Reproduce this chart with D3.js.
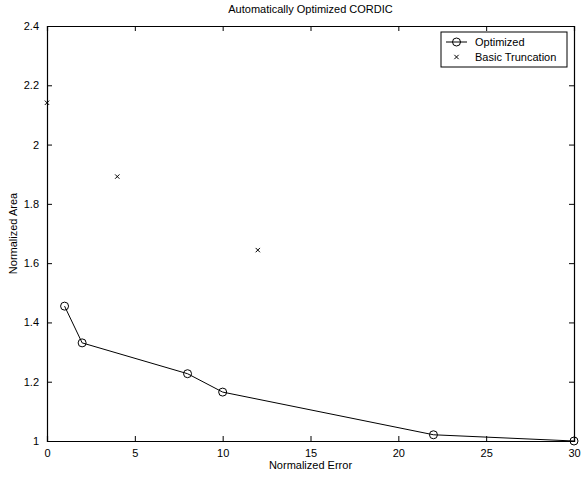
<!DOCTYPE html>
<html>
<head>
<meta charset="utf-8">
<script src="https://cdn.jsdelivr.net/npm/d3@7"></script>
<style>
  body { margin: 0; background: #fff; }
  text { font-family: "Liberation Sans", Arial, sans-serif; fill: #000; }
</style>
</head>
<body>
<div id="chart"></div>
<script>
// data
var optX = [1, 2, 8, 10, 22, 30];
var optY = [1.455, 1.331, 1.227, 1.165, 1.021, 1.0];
var truncX = [0, 4, 12];
var truncY = [2.141, 1.892, 1.644];
var xTicks = [0, 5, 10, 15, 20, 25, 30];
var yTicks = [1, 1.2, 1.4, 1.6, 1.8, 2, 2.2, 2.4];
var seriesNames = ["Optimized", "Basic Truncation"];

var width = 584, height = 477;
var margin = {left: 47, right: 10, top: 26, bottom: 36};
var w = width - margin.left - margin.right,
    h = height - margin.top - margin.bottom;

var svg = d3.select("#chart").append("svg")
    .attr("width", width)
    .attr("height", height);

var g = svg.append("g")
    .attr("transform", "translate(" + margin.left + "," + margin.top + ")");

var x = d3.scaleLinear().domain([0, 30]).range([0, w]);
var y = d3.scaleLinear().domain([1, 2.4]).range([h, 0]);

// axes, matlab style: ticks inward on all four sides
var fmt = function(d) { return d3.format("~g")(d); };

g.append("g")
    .attr("transform", "translate(0," + h + ")")
    .call(d3.axisBottom(x).tickValues(xTicks).tickSize(-5).tickPadding(8).tickFormat(fmt));
g.append("g")
    .call(d3.axisTop(x).tickValues(xTicks).tickSize(-5).tickFormat(""));
g.append("g")
    .call(d3.axisLeft(y).tickValues(yTicks).tickSize(-5).tickPadding(8).tickFormat(fmt));
g.append("g")
    .attr("transform", "translate(" + w + ",0)")
    .call(d3.axisRight(y).tickValues(yTicks).tickSize(-5).tickFormat(""));

g.selectAll(".domain").attr("stroke", "#000").attr("stroke-width", 1.2);
g.selectAll(".tick line").attr("stroke", "#000");
g.selectAll(".tick text").style("font-size", "11px").attr("fill", "#000");

// optimized series
var opt = optX.map(function(d, i) { return [d, optY[i]]; });
g.append("path")
    .datum(opt)
    .attr("fill", "none")
    .attr("stroke", "#000")
    .attr("stroke-width", 1)
    .attr("d", d3.line().x(function(d) { return x(d[0]); }).y(function(d) { return y(d[1]); }));

g.selectAll("circle.opt")
    .data(opt)
  .enter().append("circle")
    .attr("class", "opt")
    .attr("cx", function(d) { return x(d[0]); })
    .attr("cy", function(d) { return y(d[1]); })
    .attr("r", 4)
    .attr("fill", "none")
    .attr("stroke", "#000");

// basic truncation, x markers
var cross = d3.symbol().type(d3.symbolX).size(14);
g.selectAll("path.trunc")
    .data(truncX.map(function(d, i) { return [d, truncY[i]]; }))
  .enter().append("path")
    .attr("class", "trunc")
    .attr("transform", function(d) { return "translate(" + x(d[0]) + "," + y(d[1]) + ")"; })
    .attr("d", cross)
    .attr("fill", "none")
    .attr("stroke", "#000")
    .attr("stroke-width", 1);

// labels
svg.append("text")
    .attr("x", margin.left + w / 2)
    .attr("y", 13)
    .attr("text-anchor", "middle")
    .style("font-size", "11px")
    .text("Automatically Optimized CORDIC");

svg.append("text")
    .attr("x", margin.left + w / 2)
    .attr("y", 469)
    .attr("text-anchor", "middle")
    .style("font-size", "11px")
    .text("Normalized Error");

svg.append("text")
    .attr("transform", "translate(17," + (margin.top + h / 2) + ") rotate(-90)")
    .attr("text-anchor", "middle")
    .style("font-size", "11px")
    .text("Normalized Area");

// legend
var leg = svg.append("g").attr("transform", "translate(441,32)");
leg.append("rect")
    .attr("width", 126).attr("height", 35)
    .attr("fill", "#fff").attr("stroke", "#000");

leg.append("line")
    .attr("x1", 5).attr("x2", 26).attr("y1", 10).attr("y2", 10)
    .attr("stroke", "#000");
leg.append("circle")
    .attr("cx", 15.5).attr("cy", 10).attr("r", 4)
    .attr("fill", "none").attr("stroke", "#000");
leg.append("path")
    .attr("transform", "translate(15.5,25)")
    .attr("d", cross)
    .attr("fill", "none").attr("stroke", "#000");

leg.selectAll("text.lab")
    .data(seriesNames)
  .enter().append("text")
    .attr("class", "lab")
    .attr("x", 34)
    .attr("y", function(d, i) { return 14 + i * 15; })
    .style("font-size", "11px")
    .text(function(d) { return d; });
</script>
</body>
</html>
